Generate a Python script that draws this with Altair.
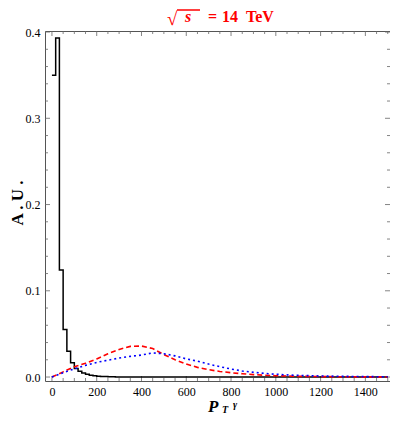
import altair as alt
import pandas as pd

# ---- data ----
black_x = [0, 16.7, 33.3, 50, 66.7, 83.3, 100, 116.7, 133.3, 150, 166.7, 183.3,
           200, 216.7, 233.3, 250, 266.7, 283.3, 300, 1500]
black_y = [0.350, 0.393, 0.124, 0.055, 0.030, 0.0166, 0.010, 0.0068, 0.0047, 0.0032,
           0.0022, 0.0015, 0.0010, 0.0007, 0.0005, 0.0003, 0.0002, 0.0001, 0.0, 0.0]

red_x = [0, 50, 100, 150, 200, 250, 300, 350, 400, 450, 500, 550, 600, 650, 700, 750,
         800, 850, 900, 950, 1000, 1050, 1100, 1200, 1300, 1400, 1500]
red_y = [0, 0.006, 0.012, 0.016, 0.021, 0.027, 0.032, 0.0355, 0.036, 0.033, 0.026,
         0.020, 0.015, 0.0112, 0.0085, 0.0065, 0.005, 0.0038, 0.0028, 0.0021, 0.0015,
         0.0011, 0.0008, 0.0005, 0.0003, 0.0002, 0.0001]

blue_x = [0, 50, 100, 150, 200, 250, 300, 350, 400, 450, 500, 550, 600, 650, 700, 750,
          800, 850, 900, 950, 1000, 1050, 1100, 1200, 1300, 1400, 1500]
blue_y = [0, 0.005, 0.0095, 0.0135, 0.017, 0.0195, 0.022, 0.024, 0.0255, 0.028, 0.027,
          0.0245, 0.021, 0.0185, 0.015, 0.012, 0.0093, 0.007, 0.0055, 0.0042, 0.0032,
          0.0025, 0.0019, 0.0012, 0.0008, 0.0005, 0.0003]

x_major = [0, 200, 400, 600, 800, 1000, 1200, 1400]
x_minor = [50, 100, 150, 250, 300, 350, 450, 500, 550, 650, 700, 750, 850, 900, 950,
           1050, 1100, 1150, 1250, 1300, 1350, 1450, 1500]
y_major = [0.0, 0.1, 0.2, 0.3, 0.4]
y_minor = [0.02, 0.04, 0.06, 0.08, 0.12, 0.14, 0.16, 0.18, 0.22, 0.24, 0.26, 0.28,
           0.32, 0.34, 0.36, 0.38]

W, H = 345, 350
SERIF = "Liberation Serif"
TICK = "#666666"

xs = alt.Scale(domain=[-31, 1510], nice=False, zero=False)
ys = alt.Scale(domain=[-0.0046, 0.4012], nice=False, zero=False)

black = pd.DataFrame({"x": black_x, "y": black_y})
red = pd.DataFrame({"x": red_x, "y": red_y})
blue = pd.DataFrame({"x": blue_x, "y": blue_y})

xax = alt.Axis(values=x_major, ticks=False, domain=False, grid=False, title=None,
               labelFont=SERIF, labelFontSize=12, labelPadding=5, labelColor="black",
               format="d")
yax = alt.Axis(values=y_major, ticks=False, domain=False, grid=False, title=None,
               labelFont=SERIF, labelFontSize=12, labelPadding=5, labelColor="black",
               format=".1f")

base_black = alt.Chart(black).mark_line(
    interpolate="step-after", color="black", strokeWidth=1.5
).encode(x=alt.X("x:Q", scale=xs, axis=xax), y=alt.Y("y:Q", scale=ys, axis=yax))

line_red = alt.Chart(red).mark_line(
    color="#ff0000", strokeWidth=1.6, strokeDash=[5, 3]
).encode(x=alt.X("x:Q", scale=xs), y=alt.Y("y:Q", scale=ys))

line_blue = alt.Chart(blue).mark_line(
    color="#0000ff", strokeWidth=1.6, strokeDash=[2, 3]
).encode(x=alt.X("x:Q", scale=xs), y=alt.Y("y:Q", scale=ys))


def xticks(vals, length):
    d = pd.DataFrame({"x": vals})
    bot = alt.Chart(d).mark_rule(color=TICK, strokeWidth=0.8).encode(
        x=alt.X("x:Q", scale=xs), y=alt.value(H), y2=alt.value(H - length))
    top = alt.Chart(d).mark_rule(color=TICK, strokeWidth=0.8).encode(
        x=alt.X("x:Q", scale=xs), y=alt.value(0), y2=alt.value(length))
    return [bot, top]


def yticks(vals, length):
    d = pd.DataFrame({"y": vals})
    left = alt.Chart(d).mark_rule(color=TICK, strokeWidth=0.8).encode(
        y=alt.Y("y:Q", scale=ys), x=alt.value(0), x2=alt.value(length))
    right = alt.Chart(d).mark_rule(color=TICK, strokeWidth=0.8).encode(
        y=alt.Y("y:Q", scale=ys), x=alt.value(W), x2=alt.value(W - length))
    return [left, right]


ticks = xticks(x_major, 5) + xticks(x_minor, 3) + yticks(y_major, 5) + yticks(y_minor, 3)


def txt(t, x, y, size, color="black", bold=True, italic=False, angle=0, align="left"):
    return alt.Chart(pd.DataFrame({"t": [t]})).mark_text(
        font=SERIF, fontSize=size, fontWeight="bold" if bold else "normal",
        fontStyle="italic" if italic else "normal", color=color, align=align,
        baseline="alphabetic", angle=angle
    ).encode(x=alt.value(x), y=alt.value(y), text="t:N")


RED = "#ff0000"
title_parts = [
    txt("\u221a", 122, -6, 19, RED, bold=False),
    txt("s", 140, -9, 16, RED, italic=True),
    txt("=", 163, -9, 16, RED),
    txt("14", 177, -9, 16, RED),
    txt("TeV", 201, -9, 16, RED),
    alt.Chart(pd.DataFrame({"t": [0]})).mark_rule(color=RED, strokeWidth=1.5).encode(
        x=alt.value(132), x2=alt.value(155), y=alt.value(-21)),
]

xlabel_parts = [
    txt("P", 163, 381, 17, italic=True),
    txt("T", 177, 382, 10, italic=True),
    txt("\u03b3", 188, 377, 10, italic=True),
]

ylabel = txt("A . U .", -22, 172, 17, angle=270, align="center")

chart = alt.layer(
    *ticks, base_black, line_red, line_blue, *title_parts, *xlabel_parts, ylabel
).properties(
    width=W, height=H,
    autosize=alt.AutoSizeParams(type="none"),
    padding={"left": 37, "top": 23, "right": 0, "bottom": 35},
).configure_view(stroke="#555555", strokeWidth=1)

chart.save("out.html", embed_options={"renderer": "svg", "actions": False})
